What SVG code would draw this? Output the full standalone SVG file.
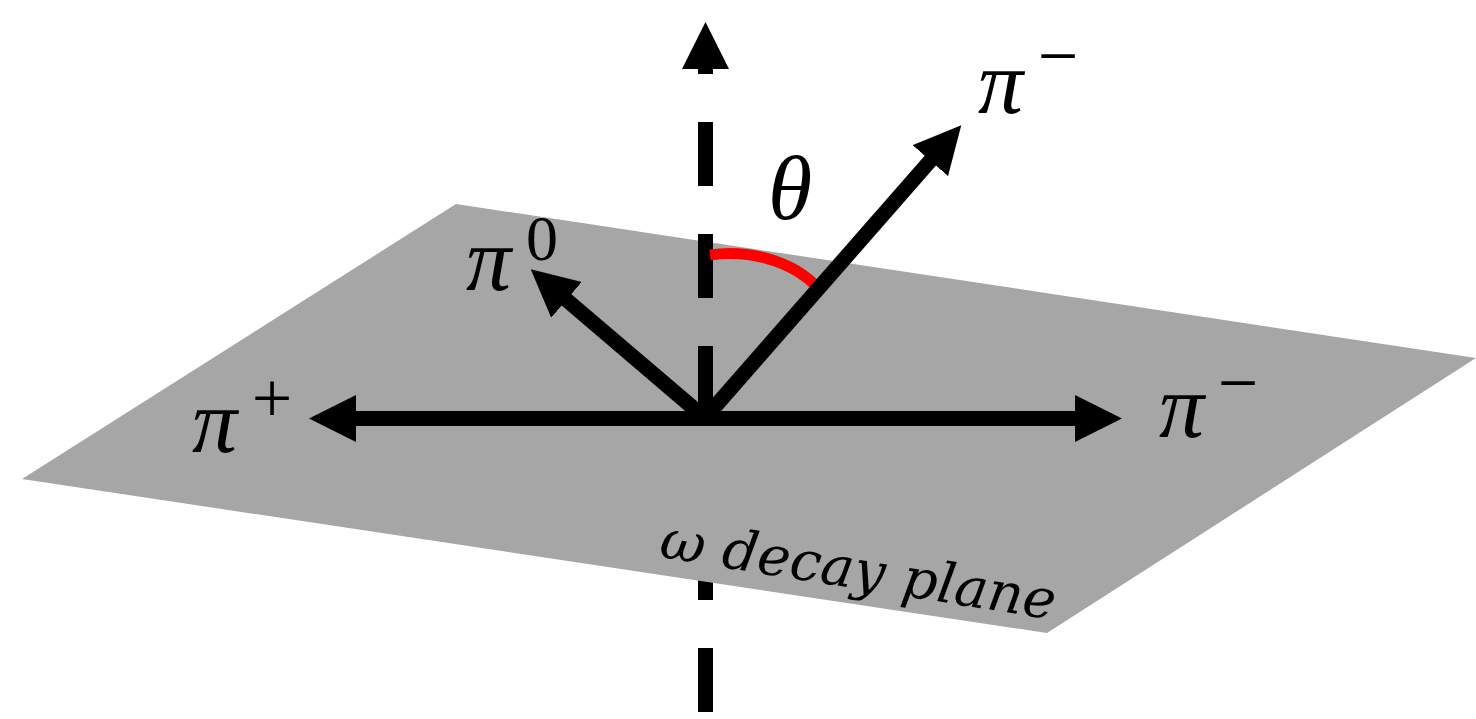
<svg xmlns="http://www.w3.org/2000/svg" width="1476" height="719" viewBox="0 0 1476 719">
  <style>
    .axis { stroke: #000; stroke-width: 15; fill: none; stroke-dasharray: 64 48; }
    .arrow { stroke: #000; stroke-width: 15; fill: none; marker-end: url(#ah); }
    .arc { stroke: #ff0000; stroke-width: 11; fill: none; }
    .pi { font-family: "Liberation Serif", "Times New Roman", serif; font-style: italic; font-size: 90px; fill: #000; }
    .sup { font-family: "Liberation Serif", "Times New Roman", serif; font-size: 72px; fill: #000; text-anchor: middle; }
    .sup0 { font-family: "Liberation Serif", "Times New Roman", serif; font-size: 64px; fill: #000; text-anchor: middle; }
    .plabel { font-family: "DejaVu Serif", "Liberation Serif", serif; font-style: italic; font-size: 55px; fill: #000; }
  </style>
  <defs>
    <marker id="ah" markerUnits="userSpaceOnUse" markerWidth="47" markerHeight="47" viewBox="0 0 47 47" refX="3" refY="23.5" orient="auto">
      <path d="M0,0 L47,23.5 L0,47 z" fill="#000"/>
    </marker>
  </defs>

  <g id="axis-lower">
    <path class="axis" d="M705.5,424 L705.5,712"/>
  </g>

  <g id="plane">
    <polygon points="456,204 1476,358 1047,633 22,479" fill="#a6a6a6"/>
    <text class="plabel" transform="translate(658,557) rotate(9)" textLength="400" lengthAdjust="spacingAndGlyphs">ω decay plane</text>
  </g>

  <g id="connectors">
    <path id="axis-upper" class="axis" d="M705.5,410 L705.5,66" marker-end="url(#ah)"/>
    <path id="theta-arc" class="arc" d="M710,255 C745,250 790,258 818,288"/>
    <path id="arrow-piplus" class="arrow" d="M705,418.5 L353,418.5"/>
    <path id="arrow-piminus-right" class="arrow" d="M705,418.5 L1078,418.5"/>
    <path id="arrow-pizero" class="arrow" d="M705,418 L564.2,297.9"/>
    <path id="arrow-piminus-up" class="arrow" d="M705,418 L932.3,158.4"/>
  </g>

  <g id="label-piminus-up">
    <text class="pi" x="978" y="113">π</text>
    <text class="sup" x="1058" y="80">−</text>
  </g>
  <g id="label-theta">
    <text class="pi" x="768" y="219">θ</text>
  </g>
  <g id="label-pizero">
    <text class="pi" x="466" y="290">π</text>
    <text class="sup0" x="542" y="260">0</text>
  </g>
  <g id="label-piplus">
    <text class="pi" x="192" y="452">π</text>
    <text class="sup" x="272" y="422">+</text>
  </g>
  <g id="label-piminus-right">
    <text class="pi" x="1159" y="437">π</text>
    <text class="sup" x="1238" y="407">−</text>
  </g>
</svg>
